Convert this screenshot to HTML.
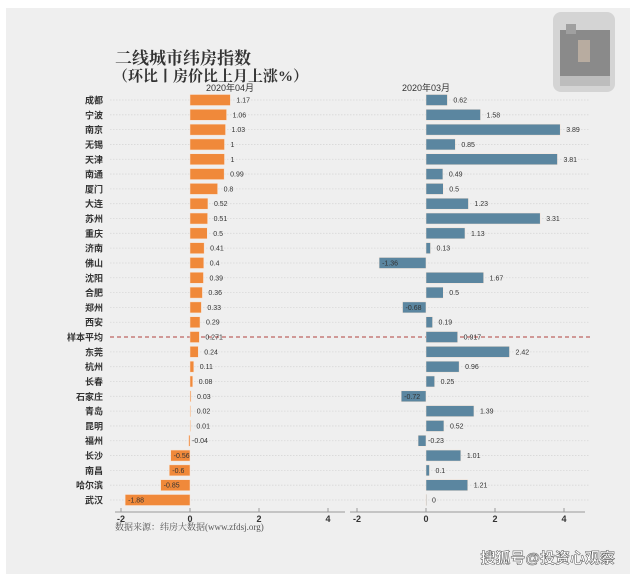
<!DOCTYPE html>
<html><head><meta charset="utf-8">
<style>
html,body{margin:0;padding:0;background:#fff;width:640px;height:578px;overflow:hidden}
svg{display:block;font-family:"Liberation Sans","Noto Sans CJK SC",sans-serif}
</style></head>
<body>
<svg width="640" height="578" viewBox="0 0 640 578">
<rect x="6" y="8" width="624" height="566" fill="#efefef"/>
<g>
<rect x="553" y="12" width="62" height="80" rx="8" fill="#d4d4d4"/>
<rect x="560" y="30" width="50" height="46" fill="#8a8a8a"/>
<rect x="566" y="24" width="10" height="10" fill="#a0a0a0"/>
<rect x="578" y="40" width="12" height="22" fill="#b8aca0"/>
<rect x="560" y="76" width="50" height="10" fill="#bdbdbd"/>
</g>
<text x="115" y="64" font-size="17" font-weight="bold" fill="#333" font-family="Liberation Serif,'Noto Serif CJK SC',serif">二线城市纬房指数</text>
<text x="113" y="81" font-size="15" font-weight="bold" fill="#333" font-family="Liberation Serif,'Noto Serif CJK SC',serif">（环比丨房价比上月上涨%）</text>
<text x="230" y="91" font-size="9" fill="#333" text-anchor="middle">2020年04月</text>
<text x="426" y="91" font-size="9" fill="#333" text-anchor="middle">2020年03月</text>
<g id="plot"></g>
<text x="115" y="530" font-size="9" fill="#555" font-family="Liberation Serif,'Noto Serif CJK SC',serif">数据来源：纬房大数据(www.zfdsj.org)</text>
<text x="615" y="563" font-size="15" font-weight="bold" fill="#fff" stroke="#555" stroke-width="0.5" text-anchor="end">搜狐号@投资心观察</text>
</svg>
<script>
const cities=["成都","宁波","南京","无锡","天津","南通","厦门","大连","苏州","重庆","济南","佛山","沈阳","合肥","郑州","西安","样本平均","东莞","杭州","长春","石家庄","青岛","昆明","福州","长沙","南昌","哈尔滨","武汉"];
const apr=[1.17,1.06,1.03,1,1,0.99,0.8,0.52,0.51,0.5,0.41,0.4,0.39,0.36,0.33,0.29,0.271,0.24,0.11,0.08,0.03,0.02,0.01,-0.04,-0.56,-0.6,-0.85,-1.88];
const mar=[0.62,1.58,3.89,0.85,3.81,0.49,0.5,1.23,3.31,1.13,0.13,-1.36,1.67,0.5,-0.68,0.19,0.917,2.42,0.96,0.25,-0.72,1.39,0.52,-0.23,1.01,0.1,1.21,0];
const ticks=[-2,0,2,4];
const NS="http://www.w3.org/2000/svg";
const g=document.getElementById('plot');
const Y0=100,DY=(500-100)/27,SC=34.5;
function rowY(i){return Y0+i*DY;}
function mk(t,a){const e=document.createElementNS(NS,t);for(const k in a)e.setAttribute(k,a[k]);g.appendChild(e);return e;}
const panels=[{z:190,data:apr,color:"#f0893a",ax0:115,ax1:345},{z:426,data:mar,color:"#5b86a0",ax0:350,ax1:585}];
function xs(p,v){return p.z+v*SC;}
cities.forEach((c,i)=>{
  const y=rowY(i);
  const avg=c==="样本平均";
  const gl=mk('line',{x1:110,x2:590,y1:y,y2:y,stroke:avg?"#b0413e":"#d8d8d8","stroke-width":avg?1:0.8,"stroke-dasharray":avg?"4,3":"1.5,1.5"});
  
  
  const t=mk('text',{x:103,y:y+3.5,"font-size":9,"font-weight":"bold",fill:"#333","text-anchor":"end"});
  t.textContent=c;
  
  
});
panels.forEach((p,pi)=>{
  p.data.forEach((v,i)=>{
    const y=rowY(i);
    const x0=Math.min(xs(p,0),xs(p,v)),w=Math.abs(xs(p,v)-xs(p,0));
    const r=mk('rect',{x:x0,y:y-5.5,width:Math.max(w,0.6),height:11,fill:p.color,stroke:"#f8e6d8","stroke-width":0.5});
    
    
    let lx;
    if(v<0){lx=x0+3;if(w<18){lx=xs(p,0)+2;}}
    else{lx=xs(p,v)+6;}
    const t=mk('text',{x:lx,y:y+2.5,"font-size":7,fill:"#333","text-anchor":"start"});
    t.textContent=String(v);
    
    
  });
  const ax=mk('line',{x1:p.ax0,x2:p.ax1,y1:512,y2:512,stroke:"#999","stroke-width":1});
  
  
  ticks.forEach(tv=>{
    const x=xs(p,tv);
    const tk=mk('line',{x1:x,x2:x,y1:508,y2:512,stroke:"#999"});
    
    
    const tl=mk('text',{x:x,y:522,"font-size":9,"font-weight":"bold",fill:"#333","text-anchor":"middle"});
    tl.textContent=String(tv);
    
    
  });
});
</script>
</body></html>
